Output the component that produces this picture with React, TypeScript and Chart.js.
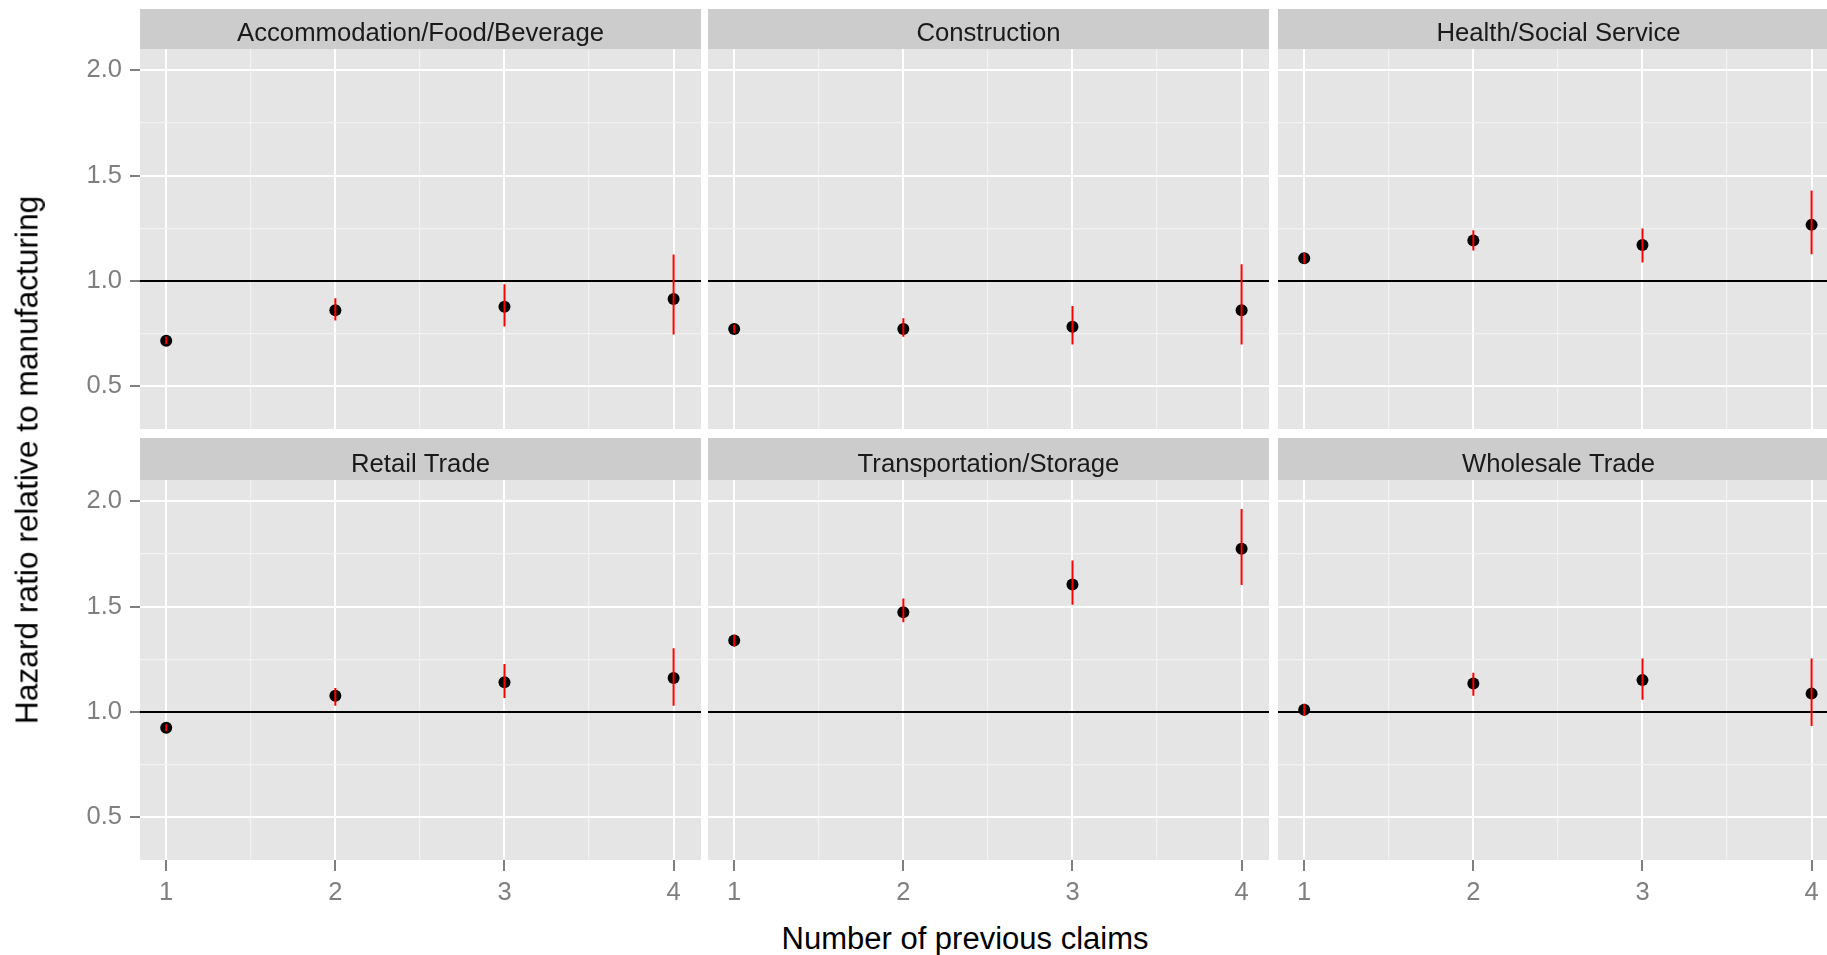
import React, { useEffect, useRef } from "react";
import { Chart, registerables } from "chart.js";

Chart.register(...registerables);

// ---- data -------------------------------------------------------------
const industries = [
  "Accommodation/Food/Beverage",
  "Construction",
  "Health/Social Service",
  "Retail Trade",
  "Transportation/Storage",
  "Wholesale Trade",
];

const previousClaims = [1, 2, 3, 4];

const hrAccommodation = [0.717, 0.861, 0.878, 0.915];
const loAccommodation = [0.700, 0.812, 0.784, 0.746];
const hiAccommodation = [0.735, 0.918, 0.985, 1.125];

const hrConstruction = [0.772, 0.772, 0.783, 0.861];
const loConstruction = [0.752, 0.736, 0.699, 0.699];
const hiConstruction = [0.794, 0.823, 0.881, 1.079];

const hrHealth = [1.108, 1.192, 1.171, 1.266];
const loHealth = [1.083, 1.144, 1.087, 1.127];
const hiHealth = [1.133, 1.240, 1.249, 1.429];

const hrRetail = [0.925, 1.077, 1.141, 1.161];
const loRetail = [0.908, 1.029, 1.066, 1.029];
const hiRetail = [0.942, 1.114, 1.227, 1.302];

const hrTransport = [1.339, 1.473, 1.604, 1.774];
const loTransport = [1.311, 1.425, 1.509, 1.602];
const hiTransport = [1.366, 1.538, 1.718, 1.963];

const hrWholesale = [1.010, 1.135, 1.151, 1.087];
const loWholesale = [0.981, 1.077, 1.058, 0.934];
const hiWholesale = [1.039, 1.186, 1.254, 1.254];

const referenceRatio = 1;

// axis limits and tick positions
const xLimits = [0.845, 4.162];
const yLimits = [0.298, 2.1];
const xMajorTicks = [1, 2, 3, 4];
const xMinorTicks = [1.5, 2.5, 3.5];
const yMajorTicks = [0.5, 1.0, 1.5, 2.0];
const yMinorTicks = [0.75, 1.25, 1.75];

const panelData = [
  { hr: hrAccommodation, lo: loAccommodation, hi: hiAccommodation },
  { hr: hrConstruction, lo: loConstruction, hi: hiConstruction },
  { hr: hrHealth, lo: loHealth, hi: hiHealth },
  { hr: hrRetail, lo: loRetail, hi: hiRetail },
  { hr: hrTransport, lo: loTransport, hi: hiTransport },
  { hr: hrWholesale, lo: loWholesale, hi: hiWholesale },
];

// ---- layout -----------------------------------------------------------
const FONT = '"Liberation Sans", Arial, Helvetica, sans-serif';
const COL_LEFT = [140, 708, 1278];
const PANEL_W = 561;
const STRIP_TOP = [9, 438];
const PANEL_TOP = [49, 480];
const PANEL_H = 380;
const Y_AXIS_W = 140;
const X_AXIS_H = 60;

const PANEL_BG = "#E5E5E5";
const STRIP_BG = "#CCCCCC";
const MINOR_GRID = "#F2F2F2";
const TICK_GREY = "#7F7F7F";

// Draws the grey panel background and the facet strip above the plot area.
const facetStrip = {
  id: "facetStrip",
  beforeDraw(chart: any, _args: any, opts: any) {
    const { ctx, chartArea: a } = chart;
    ctx.save();
    ctx.fillStyle = PANEL_BG;
    ctx.fillRect(a.left, a.top, a.right - a.left, a.bottom - a.top);
    ctx.fillStyle = STRIP_BG;
    ctx.fillRect(a.left, a.top - opts.height, a.right - a.left, opts.height);
    ctx.fillStyle = "#1A1A1A";
    ctx.font = `25.7px ${FONT}`;
    ctx.textAlign = "center";
    ctx.textBaseline = "alphabetic";
    ctx.fillText(opts.label, (a.left + a.right) / 2, a.top - 8.5);
    ctx.restore();
  },
};

function FacetPanel({ index }: { index: number }) {
  const ref = useRef<HTMLCanvasElement>(null);
  const col = index % 3;
  const row = Math.floor(index / 3);
  const showY = col === 0;
  const showX = row === 1;
  const stripH = PANEL_TOP[row] - STRIP_TOP[row];
  const axisW = showY ? Y_AXIS_W : 0;
  const axisH = showX ? X_AXIS_H : 0;
  const width = axisW + PANEL_W;
  const height = stripH + PANEL_H + axisH;
  const left = COL_LEFT[col] - axisW;
  const top = STRIP_TOP[row];

  useEffect(() => {
    if (!ref.current) return;
    const d = panelData[index];
    const points = previousClaims.map((c, i) => ({ x: c, y: d.hr[i] }));
    const bars: any[] = [];
    previousClaims.forEach((c, i) => {
      bars.push({ x: c, y: d.lo[i] });
      bars.push({ x: c, y: d.hi[i] });
      bars.push({ x: c, y: null });
    });
    const refLine = [
      { x: xLimits[0], y: referenceRatio },
      { x: xLimits[1], y: referenceRatio },
    ];
    const isMajorX = (v: number) => xMajorTicks.includes(v);
    const isMajorY = (v: number) => yMajorTicks.includes(v);

    const chart = new Chart(ref.current, {
      type: "scatter",
      data: {
        datasets: [
          {
            label: "ci",
            data: bars,
            showLine: true,
            spanGaps: false,
            borderColor: "#FF0000",
            borderWidth: 2,
            pointRadius: 0,
            order: 0,
          } as any,
          {
            label: "hr",
            data: points,
            pointRadius: 6,
            pointBackgroundColor: "#000000",
            pointBorderWidth: 0,
            order: 1,
          },
          {
            label: "ref",
            data: refLine,
            showLine: true,
            borderColor: "#000000",
            borderWidth: 2,
            pointRadius: 0,
            order: 2,
          },
        ],
      },
      options: {
        animation: false,
        responsive: false,
        devicePixelRatio: 1,
        events: [],
        layout: { autoPadding: false, padding: { top: stripH, left: 0, right: 0, bottom: 0 } },
        plugins: {
          legend: { display: false },
          tooltip: { enabled: false },
          facetStrip: { label: industries[index], height: stripH },
        } as any,
        scales: {
          x: {
            type: "linear",
            min: xLimits[0],
            max: xLimits[1],
            border: { display: false },
            afterBuildTicks: (s: any) => {
              s.ticks = [...xMajorTicks, ...xMinorTicks]
                .sort((a, b) => a - b)
                .map((v) => ({ value: v }));
            },
            afterFit: (s: any) => {
              s.height = axisH;
              s.paddingLeft = 0;
              s.paddingRight = 0;
              s.paddingTop = 0;
              s.paddingBottom = 0;
            },
            grid: {
              color: (c: any) => (isMajorX(c.tick?.value) ? "#FFFFFF" : MINOR_GRID),
              lineWidth: (c: any) => (isMajorX(c.tick?.value) ? 2 : 1.2),
              drawTicks: showX,
              tickLength: 11,
              tickWidth: 2,
              tickColor: (c: any) => (isMajorX(c.tick?.value) ? TICK_GREY : "rgba(0,0,0,0)"),
            },
            ticks: {
              display: showX,
              autoSkip: false,
              maxRotation: 0,
              padding: 7,
              color: TICK_GREY,
              font: { family: FONT, size: 25.5 },
              callback: (v: any) => (isMajorX(Number(v)) ? String(v) : ""),
            },
          },
          y: {
            type: "linear",
            min: yLimits[0],
            max: yLimits[1],
            border: { display: false },
            afterBuildTicks: (s: any) => {
              s.ticks = [...yMajorTicks, ...yMinorTicks]
                .sort((a, b) => a - b)
                .map((v) => ({ value: v }));
            },
            afterFit: (s: any) => {
              s.width = axisW;
              s.paddingLeft = 0;
              s.paddingRight = 0;
              s.paddingTop = 0;
              s.paddingBottom = 0;
            },
            grid: {
              color: (c: any) => (isMajorY(c.tick?.value) ? "#FFFFFF" : MINOR_GRID),
              lineWidth: (c: any) => (isMajorY(c.tick?.value) ? 2 : 1.2),
              drawTicks: showY,
              tickLength: 10,
              tickWidth: 2,
              tickColor: (c: any) => (isMajorY(c.tick?.value) ? TICK_GREY : "rgba(0,0,0,0)"),
            },
            ticks: {
              display: showY,
              padding: 8,
              color: TICK_GREY,
              font: { family: FONT, size: 25.5 },
              callback: (v: any) => (isMajorY(Number(v)) ? Number(v).toFixed(1) : ""),
            },
          },
        },
      },
      plugins: [facetStrip],
    });
    return () => chart.destroy();
  }, [index]);

  return (
    <canvas
      ref={ref}
      width={width}
      height={height}
      style={{ position: "absolute", left, top, width, height, display: "block" }}
    />
  );
}

export default function App() {
  return (
    <div
      style={{
        position: "absolute",
        left: 0,
        top: 0,
        width: 1827,
        height: 955,
        overflow: "hidden",
        background: "#FFFFFF",
        fontFamily: FONT,
      }}
    >
      {industries.map((_, i) => (
        <FacetPanel key={i} index={i} />
      ))}
      <div
        style={{
          position: "absolute",
          left: 965,
          top: 937.5,
          transform: "translate(-50%, -50%)",
          fontSize: 31,
          lineHeight: "31px",
          whiteSpace: "nowrap",
          color: "#000000",
        }}
      >
        Number of previous claims
      </div>
      <div
        style={{
          position: "absolute",
          left: 27,
          top: 460,
          transform: "translate(-50%, -50%) rotate(-90deg)",
          fontSize: 31.7,
          lineHeight: "31px",
          whiteSpace: "nowrap",
          color: "#000000",
        }}
      >
        Hazard ratio relative to manufacturing
      </div>
    </div>
  );
}
